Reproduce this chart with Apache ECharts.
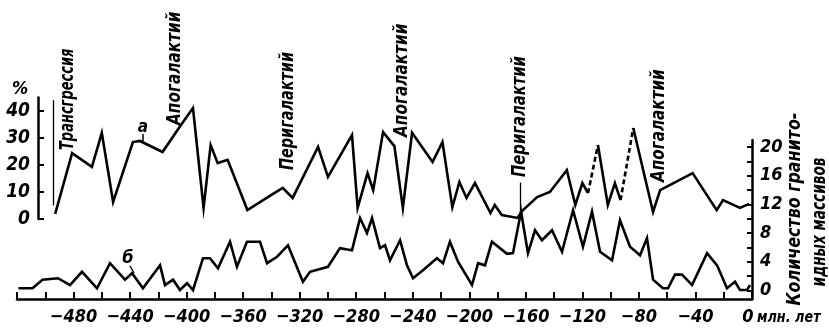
<!DOCTYPE html>
<html>
<head>
<meta charset="utf-8">
<script src="https://cdn.jsdelivr.net/npm/echarts@6/dist/echarts.min.js"></script>
<style>
html,body{margin:0;padding:0;background:#fff}
#chart{width:829px;height:332px}
</style>
</head>
<body>
<div id="chart"></div>
<script>
// Curve "а": share (%) over geological time (Ma, negative = before present)
const ageA = [-493, -481, -467, -460, -452, -438, -433, -417, -405, -395.5, -388, -383, -378, -371, -357, -340, -332, -325, -307, -300, -283, -279, -272, -268, -261, -253, -247, -240.5, -226, -219, -212, -207, -202, -196, -185, -182, -177, -166, -162, -152, -143, -131, -125, -120, -116, -109, -102, -97, -93, -84, -70, -65, -42, -25, -20.5, -8.5, -2];
const pctA = [1.9, 24.4, 19.3, 31.9, 6.3, 28.5, 28.9, 24.8, 34.1, 41.1, 4.1, 27.4, 20.7, 21.9, 3.3, 8.9, 11.5, 7.8, 26.7, 15.6, 31.1, 4.1, 17.0, 10.7, 32.2, 27.0, 4.1, 31.9, 21.1, 28.5, 4.4, 13.7, 7.8, 13.3, 2.2, 5.2, 1.5, 0.4, 3.3, 8.1, 10.0, 18.1, 5.2, 13.3, 9.6, 27.4, 5.2, 13.3, 7.0, 33.7, 2.6, 10.7, 17.0, 3.3, 7.0, 4.1, 5.6];
// segments of curve "а" (start index) that are drawn dashed
const dashedStartA = [44, 48];

// Curve "б": number of granitoid massifs
const ageB = [-519, -509, -502, -491, -482.5, -474, -463.4, -454.2, -443.6, -438.6, -430.9, -418.8, -415.3, -409.6, -404.7, -399.7, -395.5, -388.4, -383.5, -377.8, -369.3, -364.4, -357.3, -348.1, -343.1, -336, -328.3, -317.7, -312.7, -300, -291.5, -283, -277.3, -272.4, -268.8, -263.2, -259.6, -256.1, -249, -244.1, -239.8, -232.8, -222.9, -218.6, -213.7, -208, -198.1, -193.8, -188.9, -184, -173.3, -169.1, -163.4, -158.5, -153.5, -148.6, -141.5, -134.4, -126.6, -119.6, -113.2, -107.5, -99, -93.4, -86.3, -79.2, -74.3, -70, -63, -59.4, -54.5, -49.5, -42.4, -31.8, -24.7, -17.7, -12, -8.5, -3.5, -1.4];
const countB = [0.3, 0.3, 1.5, 1.7, 0.75, 2.6, 0.3, 3.8, 1.5, 2.4, 0.3, 3.5, 0.75, 1.5, 0.05, 1.0, 0.05, 4.5, 4.5, 3.1, 6.8, 3.3, 6.8, 6.8, 3.8, 4.7, 6.3, 1.2, 2.6, 3.3, 5.9, 5.6, 10.1, 8.0, 10.1, 5.9, 6.3, 4.2, 7.0, 3.5, 1.7, 2.8, 4.5, 3.8, 6.8, 4.0, 0.75, 3.8, 3.5, 6.8, 5.1, 5.2, 11.0, 5.2, 8.4, 7.0, 8.4, 5.4, 11.2, 6.1, 11.0, 5.4, 4.2, 9.8, 6.1, 4.9, 7.3, 1.5, 0.3, 0.3, 2.2, 2.2, 0.75, 5.2, 3.5, 0.3, 1.2, 0.05, 0.05, 0.75];

// Axis ticks and labels
const xTicks = [-520, -500, -480, -460, -440, -420, -400, -380, -360, -340, -320, -300, -280, -260, -240, -220, -200, -180, -160, -140, -120, -100, -80, -60, -40, -20, 0];
const xLabels = [-480, -440, -400, -360, -320, -280, -240, -200, -160, -120, -80, -40, 0];
const pctTicks = [0, 10, 20, 30, 40];
const countTicks = [0, 2, 4, 6, 8, 10, 12, 14, 16, 18, 20];
const countLabels = [0, 4, 8, 12, 16, 20];

// Galactic-year phase annotations
const phases = ['Трансгрессия', 'Апогалактий', 'Перигалактий', 'Апогалактий', 'Перигалактий', 'Апогалактий'];

const FONT = "'Liberation Sans Narrow','DejaVu Sans Condensed','Liberation Sans',sans-serif";
const INK = '#000';

// solid part of "а" (broken where a dashed segment goes) and the dashed part
const solidA = [];
const dashA = [];
ageA.forEach((a, i) => {
  solidA.push([a, pctA[i]]);
  if (dashedStartA.includes(i)) {
    solidA.push([a, '-']);
    if (dashA.length) dashA.push([a, '-']);
    dashA.push([a, pctA[i]], [ageA[i + 1], pctA[i + 1]]);
  }
});
const dataB = ageB.map((a, i) => [a, countB[i]]);

function txt(extra, size) {
  return Object.assign({
    fill: INK, fontFamily: FONT, fontStyle: 'italic', fontWeight: 'bold', fontSize: size
  }, extra);
}
// upward-reading text, squeezed along its length by sx
function vtext(x, y, text, size, sx, align) {
  return {
    type: 'text', x: x, y: y, rotation: Math.PI / 2, scaleX: sx, scaleY: 1,
    style: txt({ text: text, align: align || 'left', verticalAlign: 'middle' }, size)
  };
}

// [x, baseline-start y, font size, squeeze]
const phasePos = [[68, 150, 19, 0.76], [175, 125, 20, 0.85], [288, 170, 20, 0.8], [402, 137, 20, 0.85], [520, 177, 20, 0.82], [659, 182, 20, 0.845]];

const chart = echarts.init(document.getElementById('chart'), null, { renderer: 'canvas' });
chart.setOption({
  animation: false,
  backgroundColor: '#fff',
  grid: [
    { left: 17, right: 77, top: 97.5, height: 121.5 },
    { left: 17, right: 77, top: 140, height: 159 }
  ],
  xAxis: [
    { gridIndex: 0, type: 'value', min: -520, max: 0, show: false },
    {
      gridIndex: 1, type: 'value', min: -520, max: 0,
      axisLine: { onZero: false, lineStyle: { color: INK, width: 2.5 } },
      axisTick: { inside: true, length: 7, lineStyle: { color: INK, width: 2 }, customValues: xTicks },
      axisLabel: {
        customValues: xLabels, margin: 9, color: INK, fontFamily: FONT, fontStyle: 'italic', fontWeight: 'bold', fontSize: 18,
        formatter: v => v === 0 ? '0\u2002' : '\u2212' + Math.abs(v)
      },
      splitLine: { show: false }
    }
  ],
  yAxis: [
    {
      gridIndex: 0, type: 'value', min: 0, max: 45, position: 'left', offset: -21,
      axisLine: { show: true, onZero: false, lineStyle: { color: INK, width: 2.5 } },
      axisTick: { show: true, inside: true, length: 6, lineStyle: { color: INK, width: 2 }, customValues: pctTicks },
      axisLabel: {
        customValues: pctTicks, margin: 8, color: INK, fontFamily: FONT, fontStyle: 'italic', fontWeight: 'bold', fontSize: 19,
        padding: [5, 0, 0, 0]
      },
      splitLine: { show: false }
    },
    {
      gridIndex: 1, type: 'value', min: -1.2, max: 21, position: 'right',
      axisLine: { show: true, onZero: false, lineStyle: { color: INK, width: 2.5 } },
      axisTick: { show: true, inside: true, length: 5, lineStyle: { color: INK, width: 2 }, customValues: countTicks },
      axisLabel: {
        customValues: countLabels, margin: 8, color: INK, fontFamily: FONT, fontStyle: 'italic', fontWeight: 'bold', fontSize: 18
      },
      splitLine: { show: false }
    }
  ],
  series: [
    {
      name: 'а', type: 'line', xAxisIndex: 0, yAxisIndex: 0, data: solidA,
      showSymbol: false, symbol: 'none', connectNulls: false,
      lineStyle: { color: INK, width: 2.6, join: 'miter' },
      markLine: {
        silent: true, symbol: 'none', label: { show: false },
        lineStyle: { color: INK, width: 1.3, type: 'solid' },
        data: [
          [{ coord: [-494.5, 5] }, { coord: [-494.5, 44] }],
          [{ coord: [-164, 2] }, { coord: [-164, 13.5] }]
        ]
      }
    },
    {
      name: 'а (dashed)', type: 'line', xAxisIndex: 0, yAxisIndex: 0, data: dashA,
      showSymbol: false, symbol: 'none', connectNulls: false,
      lineStyle: { color: INK, width: 2.6, type: [5, 3] }
    },
    {
      name: 'б', type: 'line', xAxisIndex: 1, yAxisIndex: 1, data: dataB,
      showSymbol: false, symbol: 'none',
      lineStyle: { color: INK, width: 2.6, join: 'miter' }
    }
  ],
  graphic: [
    { type: 'text', x: 20, y: 89, style: txt({ text: '%', align: 'center', verticalAlign: 'middle' }, 18) },
    { type: 'text', x: 143, y: 128, style: txt({ text: 'а', align: 'center', verticalAlign: 'middle' }, 17) },
    { type: 'line', shape: { x1: 143, y1: 134, x2: 143, y2: 141 }, style: { stroke: INK, lineWidth: 1.5 } },
    { type: 'text', x: 128, y: 258, style: txt({ text: 'б', align: 'center', verticalAlign: 'middle' }, 18) },
    { type: 'line', shape: { x1: 130, y1: 266, x2: 134, y2: 273 }, style: { stroke: INK, lineWidth: 1.5 } },
    { type: 'text', x: 757, y: 318, scaleX: 0.95, style: txt({ text: 'млн. лет', align: 'left', verticalAlign: 'middle' }, 15) },
    vtext(795, 209, 'Количество гранито-', 19, 0.93, 'center'),
    vtext(820, 222, 'идных массивов', 19, 0.8, 'center')
  ].concat(phases.map((p, i) => vtext(phasePos[i][0], phasePos[i][1], p, phasePos[i][2], phasePos[i][3])))
});
</script>
</body>
</html>
